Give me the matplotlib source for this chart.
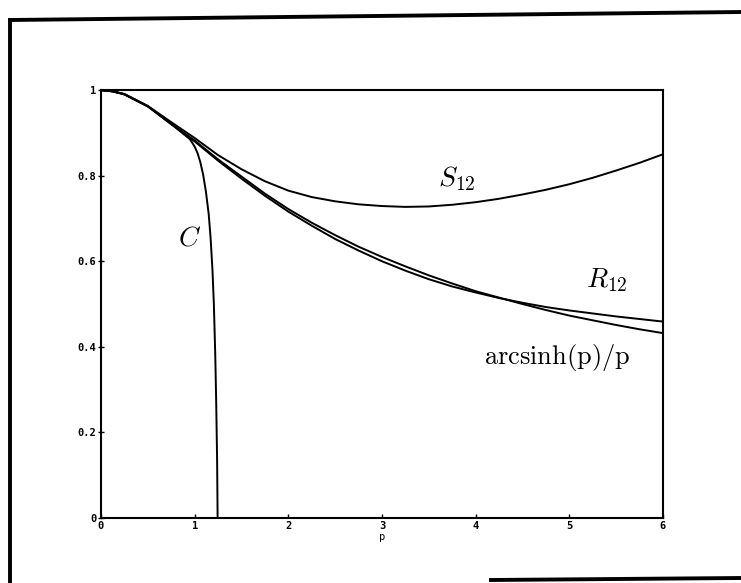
import matplotlib.pyplot as plt
from matplotlib.lines import Line2D

plt.rcParams['mathtext.fontset'] = 'cm'

# p values and the curves
p_main = [0, 0.125, 0.25, 0.5, 0.75, 1.0, 1.25, 1.5, 1.75, 2.0, 2.25, 2.5, 2.75,
          3.0, 3.25, 3.5, 3.75, 4.0, 4.25, 4.5, 4.75, 5.0, 5.25, 5.5, 5.75, 6.0]
asinh_over_p = [1.0, 0.997, 0.990, 0.962, 0.921, 0.882, 0.838, 0.798, 0.758, 0.722,
                0.690, 0.661, 0.634, 0.610, 0.588, 0.567, 0.548, 0.530, 0.515,
                0.500, 0.486, 0.473, 0.462, 0.451, 0.441, 0.432]
r12 = [1.0, 0.997, 0.990, 0.962, 0.920, 0.880, 0.835, 0.793, 0.753, 0.716,
       0.683, 0.652, 0.625, 0.600, 0.578, 0.558, 0.541, 0.527, 0.514,
       0.503, 0.493, 0.485, 0.478, 0.471, 0.465, 0.459]
s12 = [1.0, 0.997, 0.991, 0.963, 0.925, 0.888, 0.848, 0.815, 0.787, 0.765,
       0.750, 0.740, 0.733, 0.729, 0.727, 0.728, 0.732, 0.738, 0.746,
       0.756, 0.767, 0.780, 0.795, 0.812, 0.830, 0.850]

p_c = [0, 0.125, 0.25, 0.5, 0.75, 0.95, 1.0, 1.03, 1.06, 1.09, 1.12, 1.15, 1.17,
       1.19, 1.205, 1.22, 1.23, 1.24, 1.245]
c_vals = [1.0, 0.997, 0.990, 0.962, 0.921, 0.885, 0.868, 0.853, 0.832, 0.803, 0.763,
          0.710, 0.655, 0.580, 0.500, 0.380, 0.270, 0.130, 0.0]

xticks = [0, 1, 2, 3, 4, 5, 6]
yticks = [0, 0.2, 0.4, 0.6, 0.8, 1]
ytick_labels = ['0', '0.2', '0.4', '0.6', '0.8', '1']

fig = plt.figure(figsize=(7.41, 5.83), dpi=100)
ax = fig.add_axes([0.1363, 0.1115, 0.7584, 0.734])

lw = 1.4
ax.plot(p_main, asinh_over_p, color='black', lw=lw)
ax.plot(p_main, r12, color='black', lw=lw)
ax.plot(p_main, s12, color='black', lw=lw)
ax.plot(p_c, c_vals, color='black', lw=lw)

ax.set_xlim(0, 6)
ax.set_ylim(0, 1)
ax.set_xticks(xticks)
ax.set_xticklabels([str(t) for t in xticks], family='DejaVu Sans Mono',
                   fontsize=7.5, fontweight='bold')
ax.set_yticks(yticks)
ax.set_yticklabels(ytick_labels, family='DejaVu Sans Mono', fontsize=7.5,
                   fontweight='bold')
ax.tick_params(axis='x', direction='in', length=3, width=1, pad=2)
ax.tick_params(axis='y', direction='inout', length=5, width=1, pad=1)
ax.set_xlabel('p', family='DejaVu Sans Mono', fontsize=7.5, labelpad=1)
for s in ax.spines.values():
    s.set_linewidth(1.5)

# curve labels
ax.text(0.95, 0.655, r'$C$', fontsize=20, ha='center', va='center')
ax.text(3.8, 0.794, r'$S_{12}$', fontsize=20, ha='center', va='center')
ax.text(5.4, 0.556, r'$R_{12}$', fontsize=20, ha='center', va='center')
ax.text(5.65, 0.376, r'$\mathrm{arcsinh(p)/p}$', fontsize=19, ha='right', va='center')

# outer frame
W, H = 741, 583
def px(x, y):
    return x / W, 1 - y / H

frame = [((10, 20), (741, 12)), ((10, 20), (10, 583)), ((491, 580), (741, 578))]
for a, b in frame:
    (x0, y0), (x1, y1) = px(*a), px(*b)
    fig.add_artist(Line2D([x0, x1], [y0, y1], color='black', lw=2.8,
                          transform=fig.transFigure))

fig.savefig('out.png', dpi=100)
